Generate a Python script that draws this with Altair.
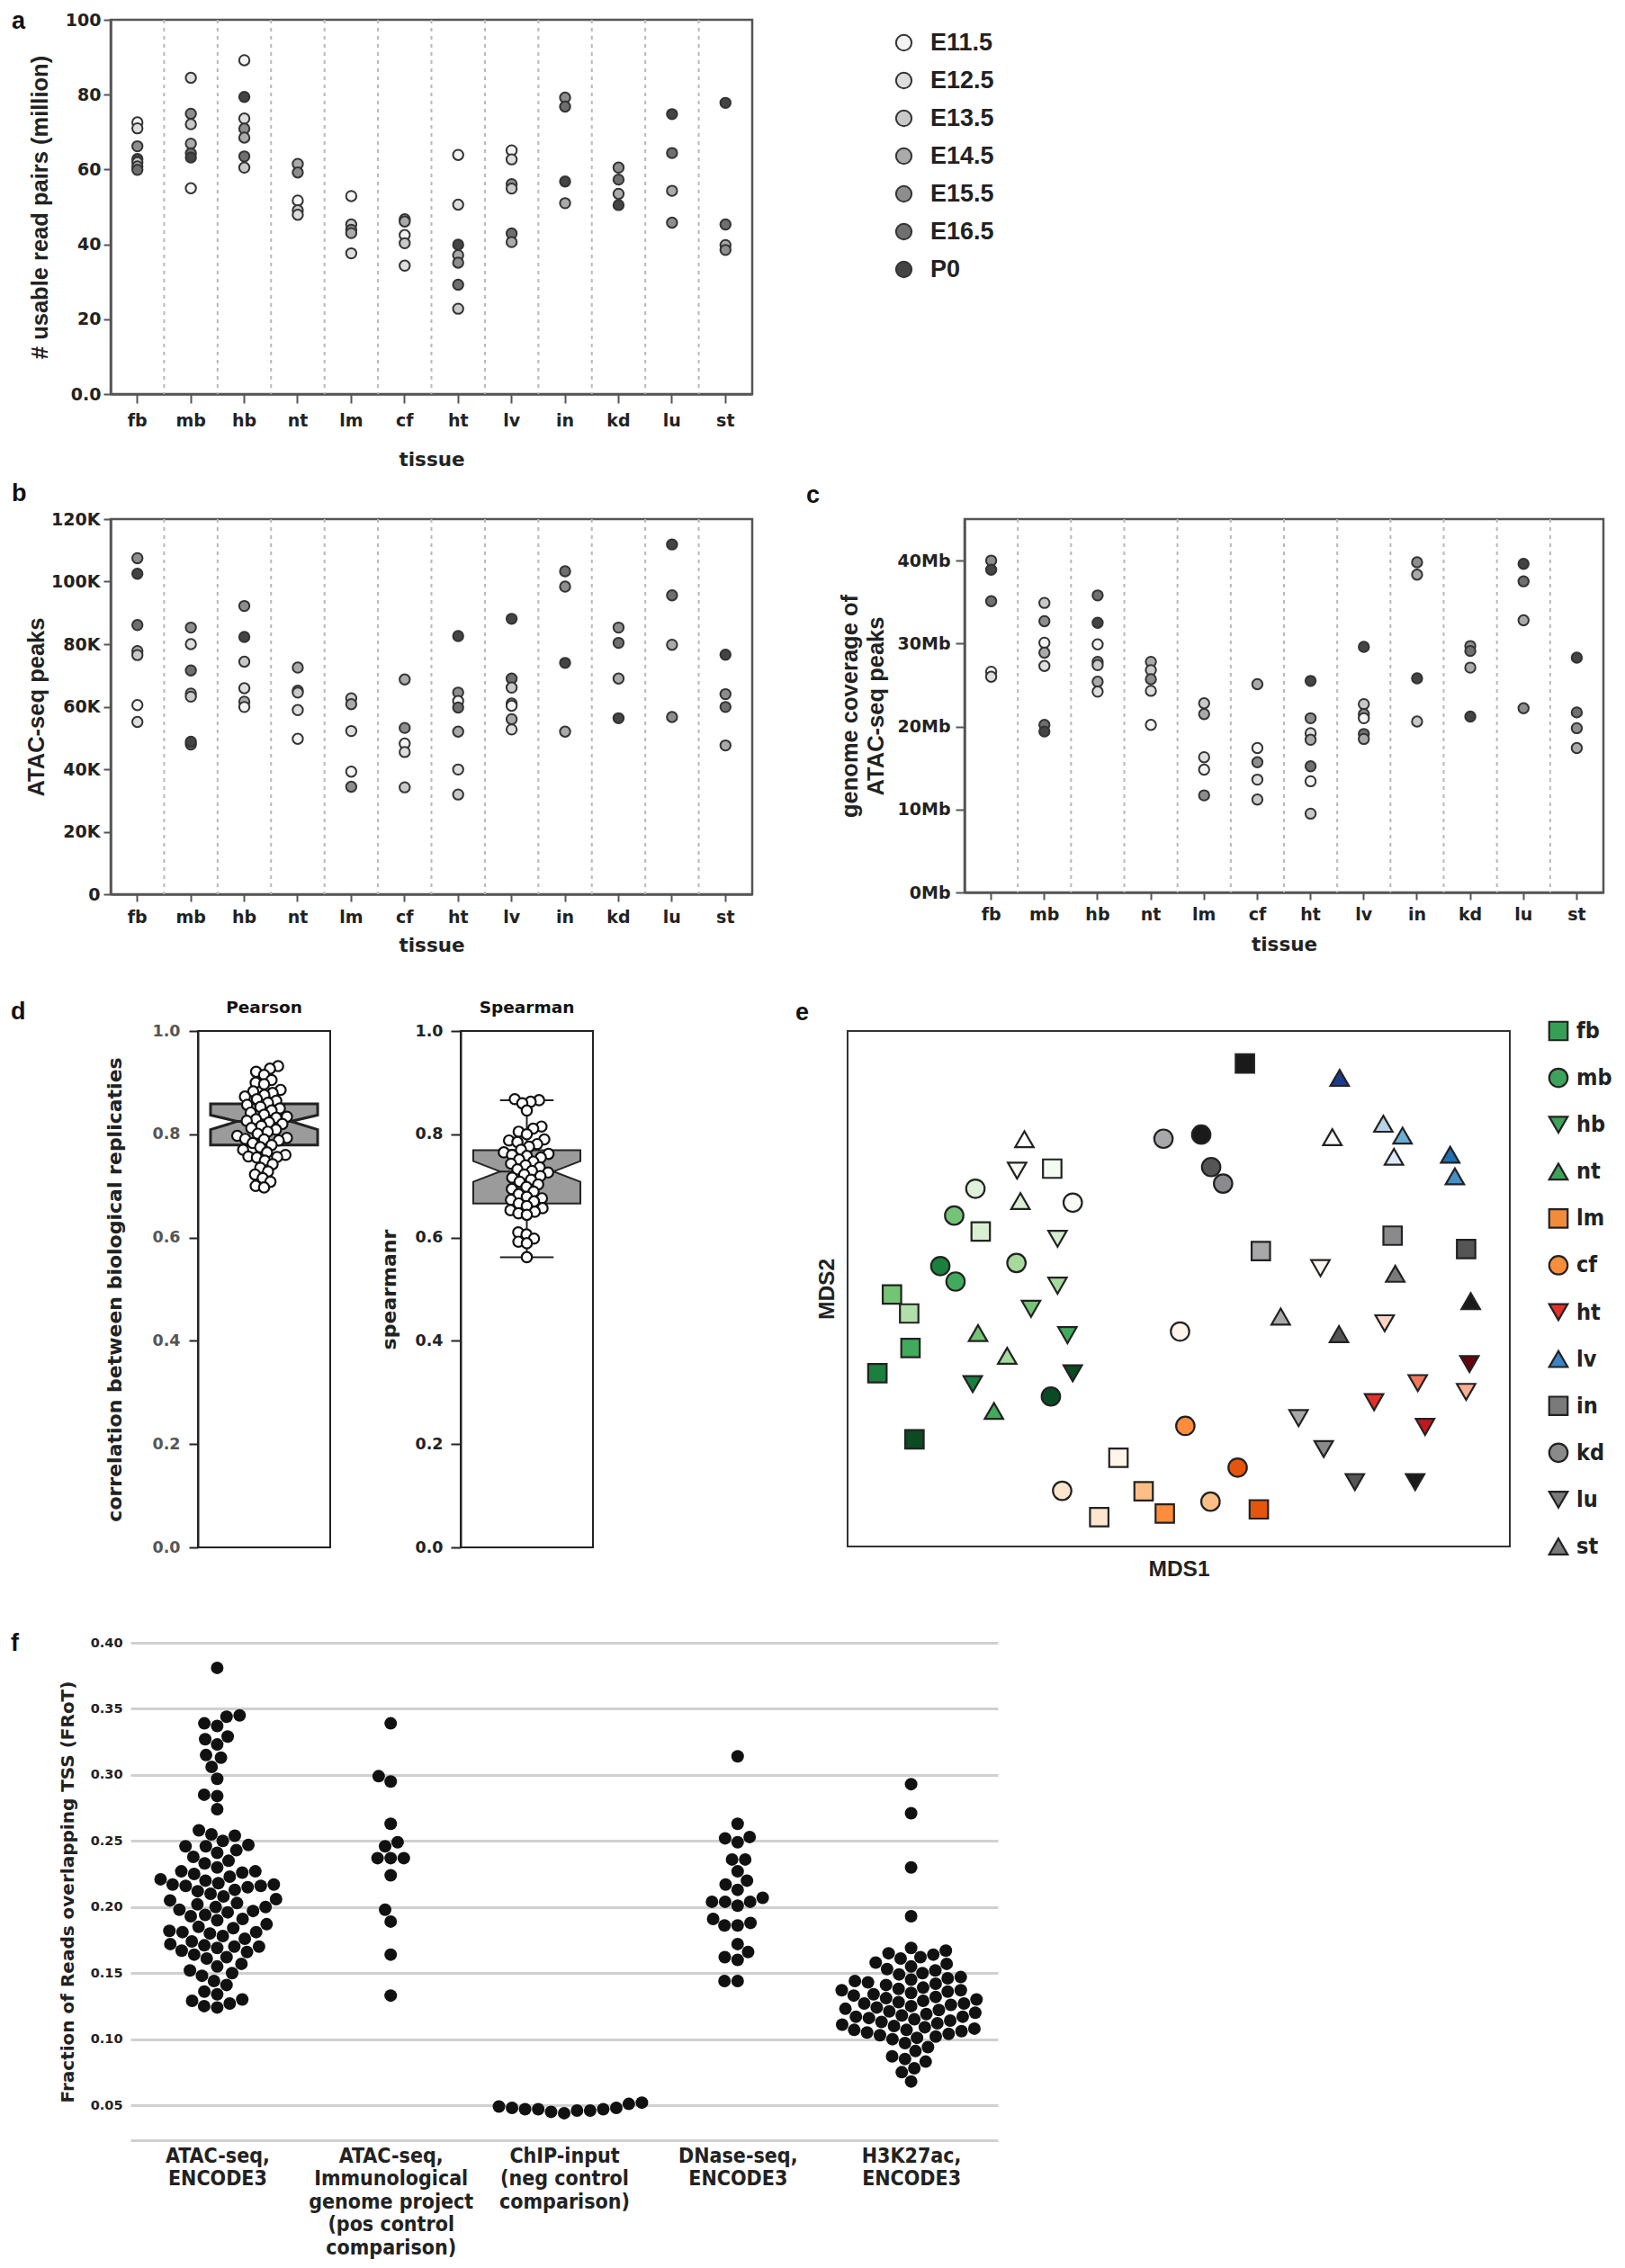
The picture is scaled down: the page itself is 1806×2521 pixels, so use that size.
import math
import json
import altair as alt
import pandas as pd

# ---------------- fonts / styles ----------------
DJ = "DejaVu Sans"
LS = "Liberation Sans"
LN = "'Liberation Sans Narrow', 'DejaVu Sans Condensed', 'Liberation Sans'"
INK = "#222222"
FRAME = "#555555"

# ---------------- data ----------------
TISSUES = ["fb", "mb", "hb", "nt", "lm", "cf", "ht", "lv", "in", "kd", "lu", "st"]
STAGES = ["E11.5", "E12.5", "E13.5", "E14.5", "E15.5", "E16.5", "P0"]
STAGE_COLORS = ["#f4f4f4", "#dedede", "#c9c9c9", "#aaaaaa", "#8e8e8e", "#6f6f6f", "#444444"]

# panel a: usable read pairs (million)
READ_PAIRS = {
    "fb": [("E11.5", 72.6), ("E12.5", 71.0), ("E15.5", 66.2), ("P0", 62.8), ("E13.5", 61.9), ("E14.5", 60.8), ("E16.5", 59.9)],
    "mb": [("E12.5", 84.5), ("E15.5", 74.9), ("E13.5", 72.1), ("E14.5", 66.9), ("E16.5", 64.3), ("P0", 63.2), ("E11.5", 55.0)],
    "hb": [("E11.5", 89.2), ("P0", 79.4), ("E12.5", 73.6), ("E15.5", 70.9), ("E14.5", 68.5), ("E16.5", 63.5), ("E13.5", 60.5)],
    "nt": [("E14.5", 61.5), ("E15.5", 59.2), ("E11.5", 51.7), ("E13.5", 49.1), ("E12.5", 47.9)],
    "lm": [("E11.5", 52.9), ("E13.5", 45.3), ("E15.5", 43.9), ("E14.5", 43.0), ("E12.5", 37.6)],
    "cf": [("E15.5", 46.7), ("E14.5", 46.1), ("E11.5", 42.5), ("E13.5", 40.3), ("E12.5", 34.3)],
    "ht": [("E11.5", 63.9), ("E12.5", 50.6), ("P0", 39.9), ("E14.5", 37.1), ("E15.5", 35.1), ("E16.5", 29.2), ("E13.5", 22.8)],
    "lv": [("E11.5", 65.1), ("E12.5", 62.7), ("E15.5", 56.1), ("E13.5", 54.9), ("E16.5", 42.9), ("E14.5", 40.6)],
    "in": [("E15.5", 79.2), ("E16.5", 76.8), ("P0", 56.8), ("E14.5", 51.0)],
    "kd": [("E15.5", 60.5), ("E16.5", 57.3), ("E14.5", 53.5), ("P0", 50.5)],
    "lu": [("P0", 74.8), ("E16.5", 64.4), ("E14.5", 54.3), ("E15.5", 45.8)],
    "st": [("P0", 77.8), ("E16.5", 45.3), ("E14.5", 39.8), ("E15.5", 38.5)],
}

# panel b: ATAC-seq peaks (thousands)
ATAC_PEAKS_K = {
    "fb": [("E15.5", 107.5), ("P0", 102.5), ("E16.5", 86.1), ("E14.5", 77.8), ("E13.5", 76.5), ("E11.5", 60.5), ("E12.5", 55.1)],
    "mb": [("E15.5", 85.3), ("E12.5", 80.0), ("E16.5", 71.6), ("E14.5", 64.2), ("E13.5", 63.2), ("E16.5", 47.9), ("P0", 48.8)],
    "hb": [("E15.5", 92.2), ("P0", 82.3), ("E13.5", 74.4), ("E12.5", 65.9), ("E14.5", 61.6), ("E11.5", 59.9)],
    "nt": [("E14.5", 72.5), ("E15.5", 65.1), ("E13.5", 64.5), ("E12.5", 58.9), ("E11.5", 49.7)],
    "lm": [("E13.5", 62.7), ("E14.5", 60.8), ("E12.5", 52.2), ("E11.5", 39.2), ("E15.5", 34.4)],
    "cf": [("E14.5", 68.7), ("E15.5", 53.2), ("E11.5", 48.2), ("E12.5", 45.5), ("E13.5", 34.2)],
    "ht": [("P0", 82.6), ("E15.5", 64.5), ("E11.5", 61.8), ("E16.5", 59.7), ("E14.5", 52.0), ("E12.5", 39.9), ("E13.5", 31.9)],
    "lv": [("P0", 88.1), ("E16.5", 69.0), ("E13.5", 66.1), ("E15.5", 61.0), ("E11.5", 60.3), ("E14.5", 56.0), ("E12.5", 52.7)],
    "in": [("E16.5", 103.3), ("E15.5", 98.4), ("P0", 74.0), ("E14.5", 52.0)],
    "kd": [("E15.5", 85.3), ("E16.5", 80.4), ("E14.5", 69.0), ("P0", 56.3)],
    "lu": [("P0", 111.9), ("E16.5", 95.6), ("E14.5", 79.8), ("E15.5", 56.7)],
    "st": [("P0", 76.6), ("E15.5", 64.0), ("E16.5", 59.9), ("E14.5", 47.6)],
}

# panel c: genome coverage of ATAC-seq peaks (Mb)
COVERAGE_MB = {
    "fb": [("E15.5", 40.0), ("P0", 38.9), ("E16.5", 35.1), ("E11.5", 26.6), ("E12.5", 26.0)],
    "mb": [("E13.5", 34.9), ("E15.5", 32.7), ("E11.5", 30.1), ("E14.5", 28.9), ("E12.5", 27.3), ("E16.5", 20.2), ("P0", 19.4)],
    "hb": [("E16.5", 35.8), ("P0", 32.5), ("E11.5", 29.9), ("E15.5", 27.8), ("E13.5", 27.4), ("E14.5", 25.4), ("E12.5", 24.2)],
    "nt": [("E14.5", 27.8), ("E13.5", 26.8), ("E15.5", 25.7), ("E12.5", 24.3), ("E11.5", 20.2)],
    "lm": [("E13.5", 22.8), ("E14.5", 21.5), ("E12.5", 16.3), ("E11.5", 14.8), ("E15.5", 11.7)],
    "cf": [("E14.5", 25.1), ("E11.5", 17.4), ("E15.5", 15.7), ("E12.5", 13.6), ("E13.5", 11.2)],
    "ht": [("P0", 25.5), ("E15.5", 21.0), ("E12.5", 19.2), ("E14.5", 18.4), ("E16.5", 15.2), ("E11.5", 13.4), ("E13.5", 9.5)],
    "lv": [("P0", 29.6), ("E13.5", 22.7), ("E15.5", 21.5), ("E11.5", 21.0), ("E16.5", 19.1), ("E14.5", 18.5)],
    "in": [("E15.5", 39.8), ("E14.5", 38.3), ("P0", 25.8), ("E13.5", 20.6)],
    "kd": [("E15.5", 29.7), ("E16.5", 29.1), ("E14.5", 27.1), ("P0", 21.2)],
    "lu": [("P0", 39.6), ("E16.5", 37.5), ("E14.5", 32.8), ("E15.5", 22.2)],
    "st": [("P0", 28.3), ("E16.5", 21.7), ("E15.5", 19.8), ("E14.5", 17.4)],
}

# panel d: correlation between biological replicates
PEARSON = [0.932, 0.927, 0.921, 0.915, 0.905, 0.900, 0.897, 0.886, 0.883, 0.880, 0.876, 0.873, 0.868,
           0.865, 0.861, 0.857, 0.853, 0.850, 0.846, 0.842, 0.838, 0.834, 0.832, 0.829, 0.826, 0.823,
           0.820, 0.816, 0.812, 0.809, 0.805, 0.801, 0.797, 0.793, 0.791, 0.790, 0.788, 0.783, 0.779,
           0.775, 0.770, 0.765, 0.760, 0.757, 0.756, 0.755, 0.749, 0.742, 0.735, 0.728, 0.722, 0.715,
           0.708, 0.700, 0.697]
SPEARMAN = [0.868, 0.866, 0.863, 0.860, 0.846, 0.815, 0.811, 0.805, 0.800, 0.790, 0.788, 0.785, 0.781,
            0.776, 0.770, 0.765, 0.762, 0.760, 0.758, 0.755, 0.751, 0.747, 0.743, 0.740, 0.736, 0.732,
            0.729, 0.726, 0.722, 0.719, 0.716, 0.712, 0.708, 0.703, 0.698, 0.694, 0.689, 0.684, 0.679,
            0.676, 0.673, 0.670, 0.666, 0.661, 0.657, 0.653, 0.650, 0.647, 0.644, 0.610, 0.606, 0.598,
            0.592, 0.589, 0.562]
# q1, notch low, median, notch high, q3
PEARSON_BOX = [0.779, 0.809, 0.825, 0.837, 0.859]
SPEARMAN_BOX = [0.666, 0.708, 0.728, 0.748, 0.769]
SPEARMAN_WHISKERS = [0.562, 0.866]

# panel e: MDS coordinates (arbitrary units) with per-sample fill
MDS_POINTS = {
    "fb": [(6.7, 48.9, "#74c476"), (9.3, 45.2, "#b2dfa9"), (9.5, 38.5, "#41ab5d"), (4.5, 33.6, "#1b7f3e"),
           (10.1, 20.8, "#0c4a23"), (20.1, 61.1, "#d9efd2"), (30.9, 73.3, "#f4fbf2")],
    "mb": [(19.3, 69.4, "#dff1da"), (16.1, 64.2, "#74c476"), (25.5, 55.0, "#a6da9d"), (14.0, 54.4, "#1b7f3e"),
           (16.3, 51.4, "#41ab5d"), (30.7, 29.1, "#0c4a23"), (34.0, 66.7, "#f7fcf5")],
    "hb": [(25.6, 72.9, "#f7fcf5"), (31.7, 59.7, "#d5edcf"), (31.7, 50.6, "#a6da9d"), (27.7, 46.1, "#74c476"),
           (33.2, 41.0, "#41ab5d"), (34.0, 33.6, "#0c4a23"), (18.9, 31.5, "#1b7f3e")],
    "nt": [(26.7, 79.0, "#ffffff"), (26.1, 67.0, "#d9efd2"), (19.7, 41.4, "#74c476"), (24.1, 37.0, "#a6da9d"),
           (22.1, 26.3, "#41ab5d")],
    "lm": [(40.9, 17.2, "#fff5eb"), (44.7, 10.7, "#fdbe85"), (38.0, 5.7, "#fee6ce"), (47.9, 6.4, "#fd8d3c"),
           (62.1, 7.2, "#e6550d")],
    "cf": [(50.2, 41.7, "#fff5eb"), (51.0, 23.4, "#fd8d3c"), (32.4, 10.8, "#fee6ce"), (54.8, 8.7, "#fdbe85"),
           (58.9, 15.3, "#e6550d")],
    "ht": [(71.4, 54.0, "#fff5f0"), (81.1, 43.3, "#fcd5c5"), (86.1, 31.7, "#f4775b"), (79.5, 28.0, "#e3302b"),
           (87.2, 23.2, "#c2171f"), (93.9, 35.4, "#67000d"), (93.4, 30.0, "#fcaf93")],
    "lv": [(74.3, 90.9, "#1d3b8c"), (73.2, 79.4, "#f7fbff"), (80.9, 82.0, "#b7d4ea"), (83.8, 79.7, "#6aaed6"),
           (82.5, 75.6, "#dce9f6"), (91.0, 76.0, "#2171b5"), (91.7, 71.8, "#4292c6")],
    "in": [(60.0, 93.7, "#1a1a1a"), (62.4, 57.3, "#a8a8aa"), (82.3, 60.3, "#8a8a8c"), (93.4, 57.7, "#555555")],
    "kd": [(47.7, 79.1, "#a8a8aa"), (53.4, 79.9, "#1a1a1a"), (54.9, 73.6, "#555555"), (56.7, 70.4, "#8a8a8c")],
    "lu": [(68.1, 24.9, "#a8a8aa"), (71.9, 18.9, "#8a8a8c"), (76.6, 12.5, "#555555"), (85.7, 12.5, "#1a1a1a")],
    "st": [(65.4, 44.6, "#a8a8aa"), (74.2, 41.2, "#555555"), (82.7, 52.9, "#7a7a7a"), (94.1, 47.6, "#1a1a1a")],
}
E_SHAPES = ["square", "circle", "triangle-down", "triangle-up", "square", "circle",
            "triangle-down", "triangle-up", "square", "circle", "triangle-down", "triangle-up"]
E_LEGEND_COLORS = ["#35a055", "#3da35a", "#3da35a", "#3da35a", "#f08c3c", "#f88d3a",
                   "#e3302b", "#3a84c4", "#7a7a7a", "#8a8a8a", "#7a7a7a", "#7a7a7a"]

# panel f: FRoT per assay
F_LABELS = [["ATAC-seq,", "ENCODE3"],
            ["ATAC-seq,", "Immunological", "genome project", "(pos control", "comparison)"],
            ["ChIP-input", "(neg control", "comparison)"],
            ["DNase-seq,", "ENCODE3"],
            ["H3K27ac,", "ENCODE3"]]
FROT_ATAC = [0.381,
             0.345, 0.344, 0.339, 0.337, 0.329, 0.327, 0.323, 0.315, 0.313, 0.306, 0.297, 0.285, 0.284, 0.274,
             0.258, 0.255, 0.254, 0.250,
             0.247, 0.246, 0.246, 0.243, 0.241,
             0.238, 0.235, 0.233, 0.230,
             0.227, 0.227, 0.226, 0.225, 0.223, 0.221, 0.220,
             0.218, 0.217, 0.217, 0.216, 0.216, 0.215, 0.213, 0.212, 0.210,
             0.208, 0.206, 0.205, 0.203, 0.202, 0.200, 0.200,
             0.198, 0.197, 0.196, 0.194, 0.193, 0.191, 0.190,
             0.187, 0.185, 0.184, 0.182, 0.181, 0.181, 0.180,
             0.178, 0.176, 0.174, 0.172, 0.171, 0.170, 0.170, 0.169,
             0.167, 0.166, 0.164, 0.162, 0.161,
             0.157, 0.155, 0.152, 0.150,
             0.148, 0.144, 0.141,
             0.136, 0.134, 0.130,
             0.129, 0.127, 0.125, 0.124]
FROT_IMMGEN = [0.339, 0.299, 0.295, 0.263, 0.249, 0.246, 0.237, 0.237, 0.237, 0.224, 0.198, 0.189, 0.164, 0.133]
FROT_CHIP = [0.049, 0.048, 0.048, 0.047, 0.047, 0.047, 0.046, 0.046, 0.052, 0.051, 0.044, 0.045]
FROT_DNASE = [0.314, 0.263, 0.253, 0.252, 0.249, 0.236, 0.236, 0.227, 0.220, 0.217, 0.213, 0.207, 0.204,
              0.204, 0.204, 0.201, 0.191, 0.188, 0.186, 0.186, 0.172, 0.166, 0.162, 0.160, 0.144, 0.144]
FROT_H3K27AC = [0.293, 0.271, 0.230, 0.193,
                0.169, 0.167, 0.165, 0.164, 0.162, 0.161,
                0.158, 0.157, 0.155, 0.153, 0.152, 0.150,
                0.149, 0.147, 0.146, 0.145, 0.144, 0.143, 0.142, 0.141,
                0.139, 0.138, 0.137, 0.137, 0.136, 0.135, 0.134, 0.133, 0.132, 0.131, 0.130,
                0.129, 0.128, 0.127, 0.127, 0.126, 0.125, 0.124, 0.123, 0.122, 0.121, 0.120,
                0.119, 0.118, 0.117, 0.117, 0.116, 0.115, 0.114, 0.113, 0.112, 0.111, 0.110,
                0.109, 0.108, 0.107, 0.107, 0.106, 0.105, 0.104, 0.103, 0.102, 0.101, 0.100,
                0.097, 0.094, 0.091,
                0.087, 0.085, 0.083,
                0.078, 0.075,
                0.068]


# ---------------- helpers ----------------
def swarm_offsets(vals, px_per_unit, d):
    """Beeswarm layout: horizontal pixel offsets so that dots spaced d apart do not collide."""
    order = sorted(range(len(vals)), key=lambda i: vals[i])
    placed = []
    out = [0.0] * len(vals)
    for i in order:
        y = vals[i] * px_per_unit
        near = [(py, px) for (py, px) in placed if abs(py - y) < d]
        cands = [0.0]
        for py, px in near:
            dx = math.sqrt(max(d * d - (py - y) ** 2, 0.0))
            cands.extend([px + dx, px - dx])
        cands.sort(key=lambda c: (abs(c), c))
        chosen = 0.0
        for c in cands:
            if all((c - px) ** 2 + (y - py) ** 2 >= d * d - 1e-6 for py, px in near):
                chosen = c
                break
        placed.append((y, chosen))
        out[i] = chosen
    return out


def label_text(txt, x, y, size=27, font=LS, align="left", baseline="top"):
    return alt.Chart(alt.Data(values=[{"t": txt}])).mark_text(
        text=txt, align=align, baseline=baseline, font=font, fontSize=size, fontWeight="bold", color="#111111"
    ).encode(x=alt.value(x), y=alt.value(y))


def ghost(x, y):
    """1px white dot used only to reserve layout room on the left of a panel."""
    return alt.Chart(alt.Data(values=[{"g": 0}])).mark_point(
        filled=True, color="white", size=1, opacity=1).encode(x=alt.value(x), y=alt.value(y))


def spacer():
    return ghost(0, 0).properties(width=1, height=1, view=alt.ViewBackground(stroke="transparent"))


def ax(**kw):
    base = dict(labelFont=DJ, labelFontWeight="bold", labelColor=INK, labelFontSize=19,
                titleFont=LS, titleFontWeight="bold", titleColor=INK,
                tickColor=FRAME, tickWidth=2, domainColor=FRAME, domainWidth=2.5, grid=False)
    base.update(kw)
    return alt.Axis(**base)


def strip_panel(data, field, ydom, yvals, yexpr, ytitle, ytitle_pad, yext, ytick, ylabpad,
                xtick, xlabpad, xext, xtitle_pad, width, height, let, lx, ly, legend, extra=None):
    rows = [{"tissue": t, field: s, "v": v} for t in TISSUES for (s, v) in data[t]]
    xscale = alt.Scale(type="band", domain=TISSUES, paddingInner=0, paddingOuter=0)
    xaxis = ax(title="tissue", titleFont=DJ, titleFontSize=21.5, titlePadding=xtitle_pad,
               tickSize=xtick, labelPadding=xlabpad, labelAngle=0, minExtent=xext, maxExtent=xext)

    def X(bp):
        return alt.X("tissue:N", sort=TISSUES, scale=xscale, axis=xaxis, bandPosition=bp)

    yaxis = ax(values=yvals, labelExpr=yexpr, title=ytitle, titleFontSize=25.5, titlePadding=ytitle_pad,
               tickSize=ytick, labelPadding=ylabpad, minExtent=yext, maxExtent=yext, titleLineHeight=29)
    rules = alt.Chart(pd.DataFrame({"tissue": TISSUES[1:]})).mark_rule(
        color="#b8b8b8", strokeWidth=2, strokeDash=[4, 5]).encode(x=X(0))
    pts = alt.Chart(pd.DataFrame(rows)).mark_circle(
        size=130, opacity=1, stroke="#333333", strokeWidth=2).encode(
        x=X(0.5),
        y=alt.Y("v:Q", scale=alt.Scale(domain=ydom, nice=False, zero=True), axis=yaxis),
        fill=alt.Fill(f"{field}:N", scale=alt.Scale(domain=STAGES, range=STAGE_COLORS), legend=legend),
    )
    layers = [rules, pts, label_text(let, lx, ly)]
    if extra is not None:
        layers.append(extra)
    return alt.layer(*layers).properties(
        width=width, height=height, view=alt.ViewBackground(stroke=FRAME, strokeWidth=2.5))


# ---------------- panel a ----------------
legend_a = alt.Legend(orient="none", legendX=868, legendY=12, title=None, labelFont=LS, labelFontSize=27,
                      labelFontWeight="bold", labelColor=INK, symbolType="circle", symbolSize=300,
                      symbolStrokeColor="#333333", symbolStrokeWidth=2, symbolOpacity=1,
                      rowPadding=14, labelOffset=16, padding=0)
panel_a = strip_panel(READ_PAIRS, "stage_a", [0, 100], [0, 20, 40, 60, 80, 100],
                      "datum.value == 0 ? '0.0' : datum.label", "# usable read pairs (million)",
                      16, 50, 8, 3, 10, 10, 39, 23, 713, 416, "a", -110, -11, legend_a)

# ---------------- panel b ----------------
panel_b = strip_panel(ATAC_PEAKS_K, "stage_b", [0, 120], [0, 20, 40, 60, 80, 100, 120],
                      "datum.value == 0 ? '0' : datum.value + 'K'", "ATAC-seq peaks",
                      4, 66, 8, 4, 8, 8, 35, 11, 713, 417, "b", -110, -41, None)

# ---------------- panel c ----------------
panel_c = strip_panel(COVERAGE_MB, "stage_c", [0, 45], [0, 10, 20, 30, 40],
                      "datum.value + 'Mb'", ["genome coverage of", "ATAC-seq peaks"],
                      12, 74, 10, 6, 8, 7, 34, 13, 710, 415, "c", -176, -39, None, extra=ghost(-232, 200))


# ---------------- panel d ----------------
def corr_panel(vals, box, whiskers, title, ytitle, ytitle_pad, label_color, tick, labpad, box_sw,
               let=None, extra=None):
    W = 0.81  # half width of the box (style)
    offs = swarm_offsets(vals, 574.0, 9.5)
    xs = alt.Scale(domain=[-1, 1], nice=False, zero=False)
    ys = alt.Scale(domain=[0, 1], nice=False)
    yaxis = alt.Axis(values=[0, 0.2, 0.4, 0.6, 0.8, 1.0], format=".1f", title=ytitle, titleFont=DJ,
                     titleFontSize=22, titleFontWeight="bold", titleColor=INK, titlePadding=ytitle_pad,
                     labelFont=DJ, labelFontSize=17.5, labelFontWeight="bold", labelColor=label_color,
                     tickSize=tick, labelPadding=labpad, tickColor=INK, tickWidth=2, domainColor=INK,
                     domainWidth=2, grid=False, minExtent=51, maxExtent=51)
    q1, nlo, med, nhi, q3 = box
    area_df = pd.DataFrame({"y": [q1, nlo, med, nhi, q3],
                            "xl": [-W, -W, -W / 2, -W, -W],
                            "xr": [W, W, W / 2, W, W]})
    layers = []
    if whiskers:
        wl, wh = whiskers
        stems = pd.DataFrame({"x": [0, 0], "y": [q3, q1], "y2": [wh, wl]})
        caps = pd.DataFrame({"x": [-W / 2, -W / 2], "x2": [W / 2, W / 2], "y": [wh, wl]})
        layers.append(alt.Chart(stems).mark_rule(color=INK, strokeWidth=2).encode(
            x=alt.X("x:Q", scale=xs, axis=None), y=alt.Y("y:Q", scale=ys, axis=yaxis), y2="y2:Q"))
        layers.append(alt.Chart(caps).mark_rule(color=INK, strokeWidth=2).encode(
            x=alt.X("x:Q", scale=xs, axis=None), x2="x2:Q", y=alt.Y("y:Q", scale=ys, axis=yaxis)))
    layers.append(alt.Chart(area_df).mark_area(orient="horizontal", fill="#9b9b9b", stroke=INK,
                                               strokeWidth=box_sw, opacity=1).encode(
        y=alt.Y("y:Q", scale=ys, axis=yaxis), x=alt.X("xl:Q", scale=xs, axis=None), x2="xr:Q"))
    med_df = pd.DataFrame({"x": [-W / 2], "x2": [W / 2], "y": [med]})
    layers.append(alt.Chart(med_df).mark_rule(color=INK, strokeWidth=box_sw).encode(
        x=alt.X("x:Q", scale=xs, axis=None), x2="x2:Q", y=alt.Y("y:Q", scale=ys, axis=yaxis)))
    pts_df = pd.DataFrame({"v": vals, "x": [o / 73.5 for o in offs]})
    layers.append(alt.Chart(pts_df).mark_circle(size=130, fill="white", stroke="#111111", strokeWidth=2.2,
                                                opacity=1).encode(
        x=alt.X("x:Q", scale=xs, axis=None), y=alt.Y("v:Q", scale=ys, axis=yaxis)))
    layers.append(label_text(title, 73.5, -16, size=18.5, font=DJ, align="center", baseline="bottom"))
    if let:
        layers.append(label_text(let, -208, -34.5))
    if extra is not None:
        layers.append(extra)
    return alt.layer(*layers).properties(
        width=147, height=574, view=alt.ViewBackground(stroke=INK, strokeWidth=2))


pearson = corr_panel(PEARSON, PEARSON_BOX, None, "Pearson", "correlation between biological replicaties",
                     29.5, "#555555", 10, 10, 3, let="d")
spearman = corr_panel(SPEARMAN, SPEARMAN_BOX, SPEARMAN_WHISKERS, "Spearman", "spearmanr",
                      17, INK, 11, 9, 2, extra=ghost(-142, 300))

# ---------------- panel e (with its own legend column) ----------------
e_rows = [{"tissue": t, "m1": a, "m2": b, "fill": c} for t in TISSUES for (a, b, c) in MDS_POINTS[t]]
shape_scale = alt.Scale(domain=TISSUES, range=E_SHAPES)
e_axis_kw = dict(labels=False, ticks=False, domain=False, grid=False, titleFont=LS, titleFontSize=24.5,
                 titleFontWeight="bold", titleColor=INK, minExtent=0, maxExtent=0)
e_pts = alt.Chart(pd.DataFrame(e_rows)).mark_point(
    filled=True, size=420, stroke="#222222", strokeWidth=2.2, opacity=1).encode(
    x=alt.X("m1:Q", scale=alt.Scale(domain=[0, 100], nice=False, zero=False),
            axis=alt.Axis(title="MDS1", titlePadding=13, **e_axis_kw)),
    y=alt.Y("m2:Q", scale=alt.Scale(domain=[0, 100], nice=False, zero=False),
            axis=alt.Axis(title="MDS2", titlePadding=11, **e_axis_kw)),
    shape=alt.Shape("tissue:N", scale=shape_scale, legend=None),
    fill=alt.Fill("fill:N", scale=None),
)
leg_df = pd.DataFrame({"tissue": TISSUES, "color": E_LEGEND_COLORS})
leg_y = alt.Y("tissue:N", sort=TISSUES,
              scale=alt.Scale(type="point", domain=TISSUES, padding=0), axis=None)
leg_sym = alt.Chart(leg_df).mark_point(filled=True, size=420, stroke="#222222", strokeWidth=2.2,
                                       opacity=1).encode(
    x=alt.value(790), y=leg_y,
    shape=alt.Shape("tissue:N", scale=shape_scale, legend=None),
    fill=alt.Fill("color:N", scale=None))
leg_txt = alt.Chart(leg_df).mark_text(align="left", baseline="middle", font=LN, fontSize=25,
                                      fontWeight="bold", color=INK).encode(
    x=alt.value(810), y=leg_y, text="tissue:N")
e_panel = alt.layer(e_pts, leg_sym, leg_txt, label_text("e", -58, -33), ghost(-280, 300)).resolve_scale(
    y="independent").properties(
    width=736, height=573, view=alt.ViewBackground(stroke="#333333", strokeWidth=2))

# ---------------- panel f ----------------
f_groups = [FROT_ATAC, FROT_IMMGEN, FROT_CHIP, FROT_DNASE, FROT_H3K27AC]
f_rows = []
for gi, vals in enumerate(f_groups):
    offs = swarm_offsets(vals, 1468.8, 14.6)
    for v, o in zip(vals, offs):
        f_rows.append({"x": gi + o / 192.8, "v": v})
f_xaxis = alt.Axis(values=[0, 1, 2, 3, 4], labelExpr=json.dumps(F_LABELS) + "[datum.value]",
                   labelFont=LN, labelFontSize=23, labelFontWeight="bold", labelColor=INK,
                   labelLineHeight=25.5, labelPadding=6, labelBaseline="top", labelAngle=0, labelLimit=400,
                   ticks=False, domainColor="#d0d0d0", domainWidth=3, grid=False, title=None)
f_yaxis = alt.Axis(values=[0.05, 0.10, 0.15, 0.20, 0.25, 0.30, 0.35, 0.40], format=".2f",
                   labelFont=DJ, labelFontSize=14.5, labelFontWeight="bold", labelColor=INK,
                   labelPadding=9, ticks=False, domain=False, grid=True, gridColor="#d0d0d0", gridWidth=3,
                   title="Fraction of Reads overlapping TSS (FRoT)", titleFont=DJ, titleFontSize=20,
                   titleFontWeight="bold", titleColor=INK, titlePadding=15, minExtent=45, maxExtent=45)
f_pts = alt.Chart(pd.DataFrame(f_rows)).mark_circle(size=196, color="#111111", opacity=1).encode(
    x=alt.X("x:Q", scale=alt.Scale(domain=[-0.5, 4.5], nice=False, zero=False), axis=f_xaxis),
    y=alt.Y("v:Q", scale=alt.Scale(domain=[0.0235, 0.40], nice=False, zero=False), axis=f_yaxis),
)
panel_f = alt.layer(f_pts, label_text("f", -133, -12)).properties(
    width=964, height=553, view=alt.ViewBackground(stroke="transparent"))


# ---------------- assembly (flow layout; a thin spacer holds the first column) ----------------
def flow(*charts, columns, spacing):
    c = alt.concat(*charts, columns=columns, spacing=spacing, align="none")
    return c.resolve_scale(fill="independent", shape="independent").resolve_legend(
        fill="independent", shape="independent")


row1 = flow(spacer(), panel_a, columns=2, spacing=0)
row2 = flow(spacer(), panel_b, panel_c, columns=3, spacing=0)
row3 = flow(spacer(), pearson, spearman, e_panel, columns=4, spacing=0)
row4 = flow(spacer(), panel_f, columns=2, spacing=0)
upper = flow(row1, row2, columns=1, spacing=10)
lower = flow(row3, row4, columns=1, spacing=55)
chart = flow(upper, lower, columns=1, spacing=46).properties(
    padding={"left": 0, "top": 0, "right": 0, "bottom": 0})

chart.save("out.html", embed_options={"renderer": "svg", "actions": False})
